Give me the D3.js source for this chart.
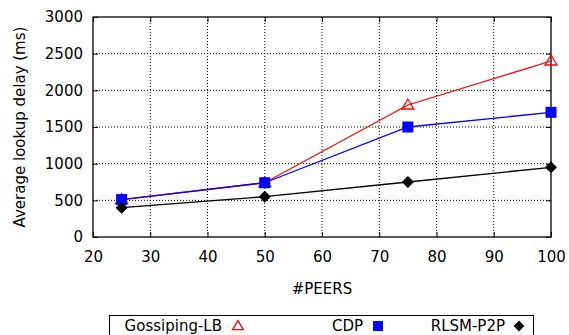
<!DOCTYPE html>
<html><head><meta charset="utf-8">
<script src="https://cdn.jsdelivr.net/npm/d3@7"></script>
<style>body{margin:0;background:#fff}svg text{font-family:"DejaVu Sans",Verdana,sans-serif}</style>
</head><body><svg id="c" width="569" height="335"></svg>
<script>
const peers = [25, 50, 75, 100];
const gossiping = [510, 740, 1800, 2400];
const cdp = [510, 740, 1500, 1700];
const rlsm = [400, 550, 750, 950];
const xTicks = [20, 30, 40, 50, 60, 70, 80, 90, 100];
const yTicks = [0, 500, 1000, 1500, 2000, 2500, 3000];
const seriesNames = ["Gossiping-LB", "CDP", "RLSM-P2P"];

const svg = d3.select("#c");
const L = 93, R = 551, T = 17, B = 237;
const x = d3.scaleLinear().domain([20, 100]).range([L, R]);
const y = d3.scaleLinear().domain([0, 3000]).range([B, T]);

// grid
const g = svg.append("g");
xTicks.slice(1, -1).forEach(v => g.append("line").attr("x1", x(v)).attr("x2", x(v)).attr("y1", T).attr("y2", B)
  .attr("stroke", "#000").attr("stroke-width", 1).attr("stroke-dasharray", "1,2"));
yTicks.slice(1, -1).forEach(v => g.append("line").attr("x1", L).attr("x2", R).attr("y1", y(v)).attr("y2", y(v))
  .attr("stroke", "#000").attr("stroke-width", 1).attr("stroke-dasharray", "1,2"));

// axes
const xa = svg.append("g").attr("transform", `translate(0,${B})`)
  .call(d3.axisBottom(x).tickValues(xTicks).tickSize(-5).tickPadding(14).tickFormat(d3.format("d")));
const ya = svg.append("g").attr("transform", `translate(${L},0)`)
  .call(d3.axisLeft(y).tickValues(yTicks).tickSize(-5).tickPadding(10).tickFormat(d3.format("d")));
const xt = svg.append("g").attr("transform", `translate(0,${T})`)
  .call(d3.axisTop(x).tickValues(xTicks).tickSize(-5).tickFormat(""));
const yr = svg.append("g").attr("transform", `translate(${R},0)`)
  .call(d3.axisRight(y).tickValues(yTicks).tickSize(-5).tickFormat(""));
[xa, ya, xt, yr].forEach(a => {
  a.select(".domain").remove();
  a.selectAll("line").attr("stroke", "#000").attr("stroke-width", 1);
  a.selectAll("text").attr("font-size", 15).attr("fill", "#000").attr("font-family", "DejaVu Sans");
});
svg.append("rect").attr("x", L).attr("y", T).attr("width", R - L).attr("height", B - T)
  .attr("fill", "none").attr("stroke", "#000").attr("stroke-width", 1.3);

// titles
svg.append("text").attr("x", (L + R) / 2).attr("y", 294).attr("text-anchor", "middle")
  .attr("font-size", 15).text("#PEERS");
svg.append("text").attr("transform", `translate(25,${(T + B) / 2}) rotate(-90)`).attr("text-anchor", "middle")
  .attr("font-size", 15).text("Average lookup delay (ms)");

// lines
const line = d3.line().x((d, i) => x(peers[i])).y(d => y(d));
const data = [gossiping, cdp, rlsm];
const colors = ["#ff0000", "#0000ff", "#000000"];
data.forEach((s, k) => svg.append("path").attr("d", line(s)).attr("fill", "none")
  .attr("stroke", colors[k]).attr("stroke-width", 1.3));

function marker(sel, k, cx, cy, s) {
  s = s || 1;
  if (k === 0) {
    sel.append("path").attr("d", `M${cx},${cy - 6 * s}L${cx + 6 * s},${cy + 4 * s}L${cx - 6 * s},${cy + 4 * s}Z`)
      .attr("fill", "none").attr("stroke", "#ff0000").attr("stroke-width", 1.3);
  } else if (k === 1) {
    sel.append("rect").attr("x", cx - 5.5 * s).attr("y", cy - 5.5 * s).attr("width", 11 * s).attr("height", 11 * s).attr("fill", "#0000ff");
  } else {
    sel.append("path").attr("d", `M${cx},${cy - 6 * s}L${cx + 6 * s},${cy}L${cx},${cy + 6 * s}L${cx - 6 * s},${cy}Z`).attr("fill", "#000");
  }
}
data.forEach((s, k) => s.forEach((v, i) => marker(svg, k, x(peers[i]), y(v))));

// legend
svg.append("rect").attr("x", 109.5).attr("y", 315.5).attr("width", 424).attr("height", 30)
  .attr("fill", "none").attr("stroke", "#000").attr("stroke-width", 1);
const legTextEnd = [222, 363, 505];
const legMark = [238, 378, 519];
seriesNames.forEach((n, k) => {
  svg.append("text").attr("x", legTextEnd[k]).attr("y", 331).attr("text-anchor", "end").attr("font-size", 15).text(n);
  marker(svg, k, legMark[k], 326, 0.9);
});
</script></body></html>
